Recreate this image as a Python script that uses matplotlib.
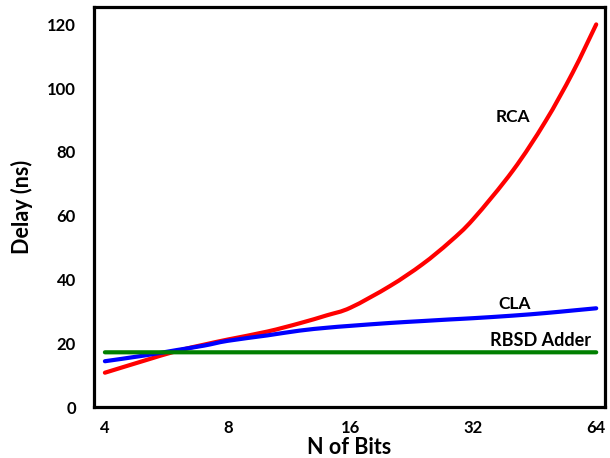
import numpy as np
import matplotlib
matplotlib.use("Agg")
import matplotlib.pyplot as plt
from matplotlib.path import Path
from matplotlib.patches import PathPatch

plt.rcParams['font.family'] = ['Lato', 'DejaVu Sans']
plt.rcParams['font.weight'] = 'bold'

# values (delay in ns vs number of bits)
n_bits = [4, 5, 6, 7, 8, 10, 12, 14, 16, 20, 24, 28, 32, 40, 48, 56, 64]
rca = [10.8, 14.6, 17.6, 19.6, 21.2, 23.7, 26.3, 28.8, 31.2, 38.0, 44.8, 51.8, 59.0, 74.2, 89.5, 104.8, 120.0]
cla = [14.4, 16.2, 17.9, 19.3, 20.8, 22.5, 24.0, 24.9, 25.5, 26.4, 27.0, 27.5, 27.9, 28.7, 29.5, 30.3, 31.0]
rbsd = [17.2] * len(n_bits)

tick_bits = [4, 8, 16, 32, 64]
y_ticks = [0, 20, 40, 60, 80, 100, 120]


def smooth_line(ax, xs, ys, **kw):
    # smoothed line like a spreadsheet "smooth line": bezier segments
    # through the data points (control points from neighbours, log2 x)
    lx = np.log2(np.asarray(xs, float))
    y = np.asarray(ys, float)
    n = len(lx)
    verts = [(lx[0], y[0])]
    codes = [Path.MOVETO]
    for i in range(n - 1):
        p0 = (lx[max(i - 1, 0)], y[max(i - 1, 0)])
        p1 = (lx[i], y[i])
        p2 = (lx[i + 1], y[i + 1])
        p3 = (lx[min(i + 2, n - 1)], y[min(i + 2, n - 1)])
        c1 = (p1[0] + (p2[0] - p0[0]) / 6, p1[1] + (p2[1] - p0[1]) / 6)
        c2 = (p2[0] - (p3[0] - p1[0]) / 6, p2[1] - (p3[1] - p1[1]) / 6)
        verts += [c1, c2, p2]
        codes += [Path.CURVE4] * 3
    verts = [(2 ** vx, vy) for vx, vy in verts]
    patch = PathPatch(Path(verts, codes), fill=False, capstyle='round', **kw)
    ax.add_patch(patch)


fig = plt.figure(figsize=(6.10, 4.58), dpi=100)
ax = fig.add_axes([0.154, 0.111, 0.838, 0.874])

ax.set_xscale('log', base=2)
smooth_line(ax, n_bits, rca, edgecolor='#FF0000', lw=3)
smooth_line(ax, n_bits, cla, edgecolor='#0000FF', lw=3)
smooth_line(ax, n_bits, rbsd, edgecolor='#007F00', lw=3)

ax.set_xlim(3.76, 67.3)
ax.set_ylim(0, 125.5)
ax.set_xticks(tick_bits)
ax.set_xticklabels([str(t) for t in tick_bits])
ax.minorticks_off()
ax.set_yticks(y_ticks)
ax.tick_params(axis='both', length=0, labelsize=12)
ax.tick_params(axis='x', pad=9)
ax.tick_params(axis='y', pad=13)
for lbl in ax.get_xticklabels() + ax.get_yticklabels():
    lbl.set_fontweight('bold')

for sp in ax.spines.values():
    sp.set_linewidth(2.3)
    sp.set_color('black')

ax.set_xlabel('N of Bits', fontsize=15.5, fontweight='bold', labelpad=1)
ax.set_ylabel('Delay (ns)', fontsize=15.5, fontweight='bold', labelpad=10)

ax.text(40.0, 91, 'RCA', fontsize=12.5, fontweight='bold', ha='center', va='center')
ax.text(40.3, 32.2, 'CLA', fontsize=12.5, fontweight='bold', ha='center', va='center')
ax.text(46.8, 20.8, 'RBSD Adder', fontsize=13, fontweight='bold', ha='center', va='center')

fig.savefig('out.png', dpi=100)
